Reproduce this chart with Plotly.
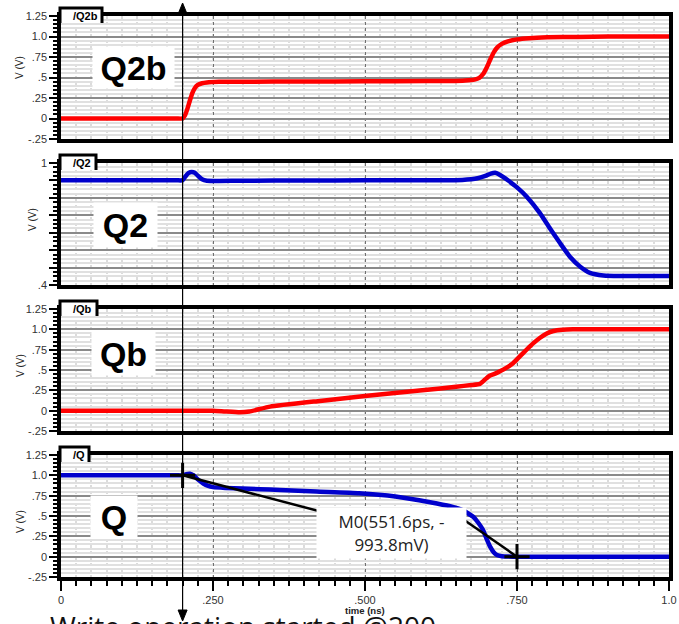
import plotly.graph_objects as go

# ---------------- data ----------------
t_q2b = [0, 0.1, 0.19, 0.2, 0.204, 0.208, 0.212, 0.216, 0.22, 0.225, 0.232, 0.24, 0.26, 0.3, 0.4,
         0.5, 0.6, 0.64, 0.665, 0.68, 0.688, 0.694, 0.70, 0.706, 0.712, 0.718, 0.725, 0.735,
         0.75, 0.77, 0.8, 0.85, 0.9, 1.0]
v_q2b = [0, 0, 0, 0, 0.04, 0.12, 0.22, 0.31, 0.37, 0.41, 0.43, 0.44, 0.447, 0.449, 0.451,
         0.453, 0.456, 0.458, 0.464, 0.474, 0.495, 0.54, 0.62, 0.72, 0.81, 0.87, 0.91, 0.94,
         0.965, 0.98, 0.99, 0.995, 1.0, 1.0]

t_q2 = [0, 0.1, 0.19, 0.2, 0.205, 0.21, 0.215, 0.22, 0.226, 0.232, 0.24, 0.26, 0.3, 0.4, 0.5,
        0.6, 0.66, 0.685, 0.698, 0.707, 0.714, 0.72, 0.727, 0.735, 0.75, 0.766, 0.788, 0.804,
        0.821, 0.837, 0.854, 0.87, 0.892, 0.93, 1.0]
v_q2 = [0.915, 0.915, 0.915, 0.915, 0.935, 0.951, 0.956, 0.952, 0.935, 0.92, 0.913, 0.912,
        0.913, 0.914, 0.915, 0.915, 0.917, 0.925, 0.937, 0.948, 0.952, 0.945, 0.932, 0.915,
        0.88, 0.834, 0.752, 0.679, 0.605, 0.539, 0.49, 0.46, 0.447, 0.444, 0.444]

t_qb = [0, 0.1, 0.2, 0.25, 0.27, 0.294, 0.31, 0.344, 0.426, 0.5, 0.557, 0.59, 0.65, 0.675,
        0.689, 0.697, 0.705, 0.714, 0.722, 0.733, 0.744, 0.755, 0.766, 0.777, 0.788, 0.799,
        0.81, 0.825, 0.842, 0.9, 1.0]
v_qb = [0, 0, 0, 0, -0.01, -0.02, -0.01, 0.05, 0.12, 0.18, 0.223, 0.247, 0.295, 0.315, 0.33,
        0.38, 0.43, 0.455, 0.484, 0.53, 0.587, 0.67, 0.752, 0.83, 0.897, 0.95, 0.98, 0.995,
        1.0, 1.0, 1.0]

t_q = [0, 0.1, 0.19, 0.2, 0.206, 0.212, 0.218, 0.225, 0.234, 0.242, 0.25, 0.27, 0.327, 0.36,
       0.42, 0.49, 0.55, 0.607, 0.64, 0.661, 0.678, 0.686, 0.694, 0.70, 0.706, 0.712, 0.717,
       0.725, 0.744, 0.8, 0.9, 1.0]
v_q = [1.0, 1.0, 1.0, 1.0, 1.015, 1.02, 1.0, 0.95, 0.9, 0.87, 0.855, 0.845, 0.83, 0.82, 0.8,
       0.78, 0.74, 0.67, 0.62, 0.57, 0.49, 0.42, 0.33, 0.22, 0.12, 0.05, 0.02, 0.005, 0.0,
       0.0, 0.0, 0.0]

panel_names = ["Q2b", "Q2", "Qb", "Q"]
panel_tabs = ["/Q2b", "/Q2", "/Qb", "/Q"]

y_tickvals = [-0.25, 0, 0.25, 0.5, 0.75, 1.0, 1.25]
y_ticktext = ["-.25", "0", ".25", ".5", ".75", "1.0", "1.25"]
q2_tickvals = [0.4 + k * 0.6 / 7 for k in range(8)]
q2_ticktext = [".4", "", "", "", "", "", "", "1"]
x_tickvals = [0, 0.25, 0.5, 0.75, 1.0]
x_ticktext = ["0", ".250", ".500", ".750", "1.0"]

cursor_t = 0.2
marker_t = [0.2, 0.75]
marker_v = [1.0, 0.0]
leader1_t = [0.2, 0.429]
leader1_v = [1.0, 0.551]
leader2_t = [0.662, 0.75]
leader2_v = [0.458, 0.0]
marker_label = "M0(551.6ps, -<br>993.8mV)"
caption = "Write operation started @200"

# ---------------- layout helpers ----------------
W, H = 679, 624
L, R, T, B = 61, 10, 16, 47
PH = H - T - B  # plot-area height in px
BOTTOM = H - B


def py(Y):
    return (BOTTOM - Y) / PH


def pxx(X):
    return (X - L) / (W - L - R)


panel_px = [(16, 139), (163, 285), (309, 431), (455, 577)]
RED = "#ff0000"
BLUE = "#0000cc"
series = [(t_q2b, v_q2b, RED), (t_q2, v_q2, BLUE), (t_qb, v_qb, RED), (t_q, v_q, BLUE)]

fig = go.Figure()
layout = dict(
    width=W, height=H, autosize=False,
    margin=dict(l=L, r=R, t=T, b=B, pad=0, autoexpand=False),
    paper_bgcolor="white", plot_bgcolor="white",
    showlegend=False,
    font=dict(family="Liberation Sans, Arial, sans-serif", size=11, color="#222"),
)

for i, ((top, bot), (tt, vv, col)) in enumerate(zip(panel_px, series)):
    n = i + 1
    xa = "xaxis" if n == 1 else f"xaxis{n}"
    ya = "yaxis" if n == 1 else f"yaxis{n}"
    xref = "x" if n == 1 else f"x{n}"
    yref = "y" if n == 1 else f"y{n}"
    last = (i == 3)
    layout[xa] = dict(
        domain=[0, 1], anchor=yref, range=[0, 1], automargin=False,
        tickmode="array", tickvals=x_tickvals,
        ticktext=x_ticktext if last else [""] * 5,
        showticklabels=last,
        ticks="outside" if last else "", ticklen=10, tickwidth=2, tickcolor="black",
        showgrid=True, gridcolor="#707070", gridwidth=1, griddash="dot",
        minor=dict(dtick=0.025, tick0=0, showgrid=True, gridcolor="#dcdcdc", gridwidth=1.5,
                   ticks="outside" if last else "", ticklen=5, tickwidth=1.5, tickcolor="black"),
        showline=True, mirror=True, linecolor="black", linewidth=3.5,
        zeroline=False, tickfont=dict(size=11, color="#333"),
    )
    if i == 1:
        yr = [0.4, 1.0]
        tv, tx = q2_tickvals, q2_ticktext
        mdt = 0.6 / 28
        mt0 = 0.4
    else:
        yr = [-0.25, 1.25]
        tv, tx = y_tickvals, y_ticktext
        mdt = 0.05
        mt0 = 0
    layout[ya] = dict(
        domain=[py(bot), py(top)], anchor=xref, range=yr, automargin=False,
        tickmode="array", tickvals=tv, ticktext=tx,
        ticks="outside", ticklen=8, tickwidth=1.5, tickcolor="black",
        showgrid=True, gridcolor="#8a8a8a", gridwidth=1.5,
        minor=dict(dtick=mdt, tick0=mt0, showgrid=True, gridcolor="#e0e0e0", gridwidth=1.5,
                   ticks="outside", ticklen=4, tickwidth=1.5, tickcolor="black"),
        showline=True, mirror=True, linecolor="black", linewidth=3.5,
        zeroline=False, tickfont=dict(size=11, color="#333"),
    )
    fig.add_trace(go.Scatter(x=tt, y=vv, mode="lines", xaxis=xref, yaxis=yref,
                             line=dict(color=col, width=4.5, shape="spline", smoothing=0.4)))

fig.update_layout(**layout)

# marker leaders and crosses on Q panel
for lt, lv in [(leader1_t, leader1_v), (leader2_t, leader2_v)]:
    fig.add_trace(go.Scatter(x=lt, y=lv, mode="lines", xaxis="x4", yaxis="y4",
                             line=dict(color="black", width=2.5)))
fig.add_trace(go.Scatter(x=marker_t, y=marker_v, mode="markers", xaxis="x4", yaxis="y4",
                         marker=dict(symbol="cross-thin", size=18,
                                     line=dict(color="black", width=3))))

shapes = []
annotations = []

# cursor line with arrows
shapes.append(dict(type="line", xref="x", yref="paper", x0=cursor_t, x1=cursor_t,
                   y0=py(619), y1=py(6), line=dict(color="black", width=1.2), layer="above"))
cx = L + cursor_t * (W - L - R)
shapes.append(dict(type="path", xref="paper", yref="paper",
                   path=f"M {pxx(cx)},{py(3)} L {pxx(cx-4.5)},{py(14)} L {pxx(cx+4.5)},{py(14)} Z",
                   fillcolor="black", line=dict(color="black", width=1), layer="above"))
shapes.append(dict(type="path", xref="paper", yref="paper",
                   path=f"M {pxx(cx)},{py(621)} L {pxx(cx-4.5)},{py(610)} L {pxx(cx+4.5)},{py(610)} Z",
                   fillcolor="black", line=dict(color="black", width=1), layer="above"))

# tabs and panel labels
tab_w = [42, 36, 37, 29]
label_pos = [(133, 67, 81, 41), (125, 225, 63, 44), (123, 353, 63, 43), (114, 517, 46, 42)]
vv_pos = [(20, 68), (32, 220), (20, 366), (20, 522)]
for i, (top, bot) in enumerate(panel_px):
    x0, x1 = 60, 60 + tab_w[i]
    y0, y1 = top - 8, top + 7
    shapes.append(dict(type="path", xref="paper", yref="paper",
                       path=f"M {pxx(x0)},{py(y1)} L {pxx(x0)},{py(y0)} L {pxx(x1)},{py(y0)} L {pxx(x1)},{py(y1)}",
                       fillcolor="white", line=dict(color="black", width=3), layer="above"))
    annotations.append(dict(xref="paper", yref="paper", x=pxx(71), y=py(top), xanchor="left",
                            yanchor="middle", text=f"<b>{panel_tabs[i]}</b>", showarrow=False,
                            font=dict(size=11, color="black")))
    lx, ly, lw, lh = label_pos[i]
    annotations.append(dict(xref="paper", yref="paper", x=pxx(lx), y=py(ly), xanchor="center",
                            yanchor="middle", text=f"<b>{panel_names[i]}</b>", showarrow=False,
                            bgcolor="white", width=lw, height=lh, borderpad=0,
                            font=dict(size=34, color="black",
                                      family="Liberation Sans, Arial, sans-serif")))
    vx, vy = vv_pos[i]
    annotations.append(dict(xref="paper", yref="paper", x=pxx(vx), y=py(vy), xanchor="center",
                            yanchor="middle", text="V (V)", textangle=-90, showarrow=False,
                            font=dict(size=10, color="#222")))

# marker label
annotations.append(dict(xref="x4", yref="y4", x=0.544, y=0.285, text=marker_label,
                        showarrow=False, bgcolor="white", width=147, height=48, align="center",
                        font=dict(size=17, color="#222", family="Open Sans, sans-serif")))

# x axis title
annotations.append(dict(xref="paper", yref="paper", x=pxx(365), y=py(610), text="<b>time (ns)</b>",
                        showarrow=False, font=dict(size=9.5, color="#222"), yanchor="middle"))

# partially visible bottom caption
annotations.append(dict(xref="paper", yref="paper", x=pxx(48), y=py(605), xanchor="left",
                        yanchor="top", text=caption, showarrow=False,
                        font=dict(size=28, color="#111", family="Open Sans, sans-serif")))

fig.update_layout(shapes=shapes, annotations=annotations)
fig.write_html("out.html")
